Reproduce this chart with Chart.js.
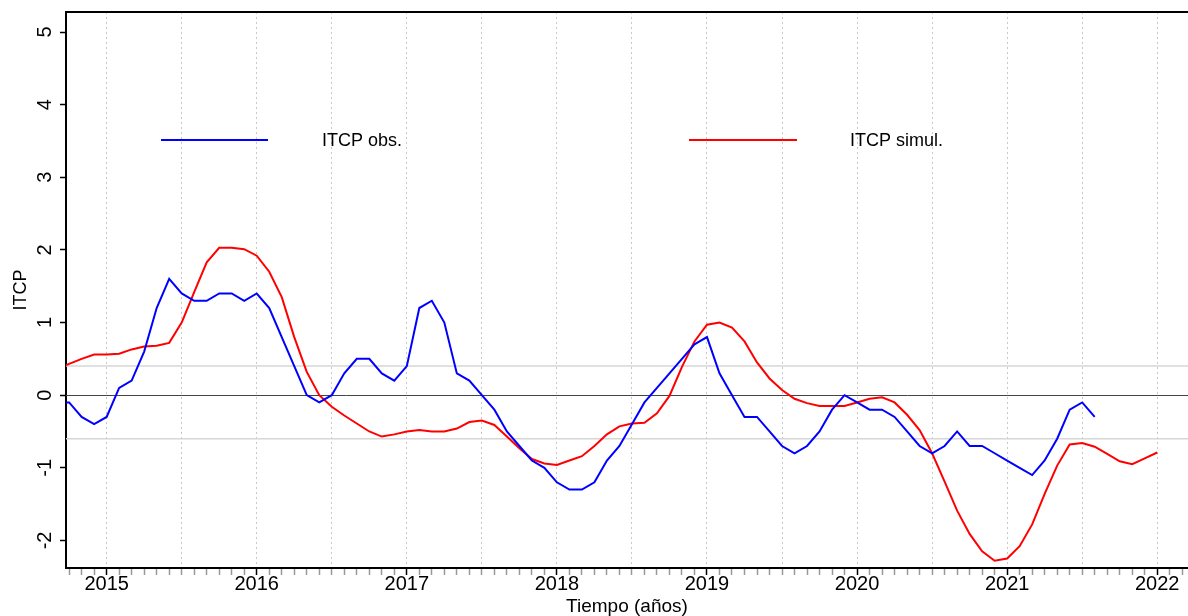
<!DOCTYPE html>
<html>
<head>
<meta charset="utf-8">
<script src="https://cdn.jsdelivr.net/npm/chart.js@4.4.1/dist/chart.umd.min.js"></script>
<style>
html,body{margin:0;padding:0;background:#fff;}
#wrap{width:1188px;height:616px;position:relative;}
</style>
</head>
<body>
<div id="wrap"><canvas id="c"></canvas></div>
<script>
// ---------- data ----------
const months = [
  '2014-09','2014-10','2014-11','2014-12',
  '2015-01','2015-02','2015-03','2015-04','2015-05','2015-06','2015-07','2015-08','2015-09','2015-10','2015-11','2015-12',
  '2016-01','2016-02','2016-03','2016-04','2016-05','2016-06','2016-07','2016-08','2016-09','2016-10','2016-11','2016-12',
  '2017-01','2017-02','2017-03','2017-04','2017-05','2017-06','2017-07','2017-08','2017-09','2017-10','2017-11','2017-12',
  '2018-01','2018-02','2018-03','2018-04','2018-05','2018-06','2018-07','2018-08','2018-09','2018-10','2018-11','2018-12',
  '2019-01','2019-02','2019-03','2019-04','2019-05','2019-06','2019-07','2019-08','2019-09','2019-10','2019-11','2019-12',
  '2020-01','2020-02','2020-03','2020-04','2020-05','2020-06','2020-07','2020-08','2020-09','2020-10','2020-11','2020-12',
  '2021-01','2021-02','2021-03','2021-04','2021-05','2021-06','2021-07','2021-08','2021-09','2021-10','2021-11','2021-12',
  '2022-01'
];

const itcpObs = [
  -0.1,-0.1,-0.3,-0.4,
  -0.3,0.1,0.2,0.6,1.2,1.6,1.4,1.3,1.3,1.4,1.4,1.3,
  1.4,1.2,0.8,0.4,0.0,-0.1,0.0,0.3,0.5,0.5,0.3,0.2,
  0.4,1.2,1.3,1.0,0.3,0.2,0.0,-0.2,-0.5,-0.7,-0.9,-1.0,
  -1.2,-1.3,-1.3,-1.2,-0.9,-0.7,-0.4,-0.1,0.1,0.3,0.5,0.7,
  0.8,0.3,0.0,-0.3,-0.3,-0.5,-0.7,-0.8,-0.7,-0.5,-0.2,0.0,
  -0.1,-0.2,-0.2,-0.3,-0.5,-0.7,-0.8,-0.7,-0.5,-0.7,-0.7,-0.8,
  -0.9,-1.0,-1.1,-0.9,-0.6,-0.2,-0.1,-0.3
];

const itcpSimul = [
  0.36,0.43,0.50,0.56,
  0.56,0.57,0.63,0.67,0.68,0.72,1.00,1.42,1.83,2.03,2.03,2.01,
  1.92,1.70,1.35,0.80,0.32,0.00,-0.16,-0.28,-0.39,-0.50,-0.57,-0.54,
  -0.50,-0.48,-0.50,-0.50,-0.46,-0.37,-0.35,-0.41,-0.57,-0.73,-0.88,-0.94,
  -0.96,-0.90,-0.84,-0.70,-0.54,-0.43,-0.39,-0.38,-0.25,-0.01,0.39,0.74,
  0.97,1.00,0.93,0.74,0.45,0.23,0.07,-0.05,-0.11,-0.15,-0.15,-0.15,
  -0.10,-0.05,-0.03,-0.10,-0.27,-0.48,-0.80,-1.19,-1.59,-1.91,-2.15,-2.28,
  -2.25,-2.08,-1.78,-1.36,-0.97,-0.68,-0.66,-0.71,-0.81,-0.91,-0.95,-0.87,
  -0.79
];

const seriesNames = ['ITCP obs.', 'ITCP simul.'];
const yearLabels = [2015, 2016, 2017, 2018, 2019, 2020, 2021, 2022];
const yTickLabels = [-2, -1, 0, 1, 2, 3, 4, 5];
const refLevels = [0.4, -0.6];
const zeroLevel = [0];

// ---------- helpers ----------
const FONT = '"Liberation Sans", Arial, Helvetica, sans-serif';
const BASE_YEAR = 2015;
function monthIndex(s) {
  const [y, m] = s.split('-').map(Number);
  return (y - BASE_YEAR) * 12 + (m - 1);
}
function toXY(vals) {
  return vals.map((v, i) => ({ x: monthIndex(months[i]), y: v }));
}

// ---------- plugins ----------
const refLinesPlugin = {
  id: 'refLines',
  beforeDatasetsDraw(chart) {
    const { ctx, chartArea, scales } = chart;
    ctx.save();
    ctx.lineWidth = 1.5;
    ctx.strokeStyle = '#d6d6d6';
    refLevels.forEach(v => {
      const y = scales.y.getPixelForValue(v);
      ctx.beginPath(); ctx.moveTo(chartArea.left, y); ctx.lineTo(chartArea.right, y); ctx.stroke();
    });
    ctx.lineWidth = 1;
    ctx.strokeStyle = '#444';
    zeroLevel.forEach(v => {
      const y = Math.round(scales.y.getPixelForValue(v)) + 0.5;
      ctx.beginPath(); ctx.moveTo(chartArea.left, y); ctx.lineTo(chartArea.right, y); ctx.stroke();
    });
    // top frame line
    ctx.lineWidth = 2;
    ctx.strokeStyle = '#000';
    ctx.beginPath(); ctx.moveTo(chartArea.left - 1, chartArea.top); ctx.lineTo(chartArea.right, chartArea.top); ctx.stroke();
    ctx.restore();
  }
};

const inlineLegend = {
  id: 'inlineLegend',
  afterDatasetsDraw(chart) {
    const { ctx, chartArea } = chart;
    const items = [
      { x0: 161, x1: 268, tx: 322 },
      { x0: 689, x1: 797, tx: 850 }
    ];
    const y = chartArea.top + 128;
    ctx.save();
    ctx.font = '18px ' + FONT;
    ctx.textBaseline = 'middle';
    ctx.textAlign = 'left';
    chart.data.datasets.forEach((ds, i) => {
      const it = items[i];
      ctx.strokeStyle = ds.borderColor;
      ctx.lineWidth = 2;
      ctx.beginPath(); ctx.moveTo(it.x0, y); ctx.lineTo(it.x1, y); ctx.stroke();
      ctx.fillStyle = '#000';
      ctx.fillText(ds.label, it.tx, y + 1);
    });
    ctx.restore();
  }
};

// ---------- chart ----------
new Chart(document.getElementById('c'), {
  type: 'line',
  data: {
    datasets: [
      { label: seriesNames[0], data: toXY(itcpObs), borderColor: '#0000ff', borderWidth: 2, pointRadius: 0, tension: 0, fill: false },
      { label: seriesNames[1], data: toXY(itcpSimul), borderColor: '#ff0000', borderWidth: 2, pointRadius: 0, tension: 0, fill: false }
    ]
  },
  options: {
    responsive: true,
    maintainAspectRatio: false,
    animation: false,
    layout: { padding: { top: 12, right: 0, left: 0, bottom: 0 } },
    plugins: { legend: { display: false }, tooltip: { enabled: false } },
    scales: {
      x: {
        type: 'linear',
        min: -3.25,
        max: 86.46,
        afterFit: s => { s.height = 48; s.paddingLeft = 0; s.paddingRight = 0; },
        ticks: {
          stepSize: 1, autoSkip: false, includeBounds: false,
          minRotation: 0, maxRotation: 0, padding: -1,
          color: '#000',
          font: { family: FONT, size: 20, lineHeight: 1 },
          callback: v => {
            if (!Number.isInteger(v) || v % 12 !== 0) return '';
            const yr = BASE_YEAR + v / 12;
            return yearLabels.includes(yr) ? String(yr) : '';
          }
        },
        grid: {
          drawOnChartArea: true,
          color: c => (c.tick && Math.abs(c.tick.value % 6) === 0) ? '#c8c8c8' : 'rgba(0,0,0,0)',
          lineWidth: 1,
          drawTicks: true,
          tickLength: 7,
          tickWidth: 1.5,
          tickColor: c => (c.tick && Math.abs(c.tick.value % 12) === 0) ? '#000' : '#999',
          tickBorderDash: []
        },
        border: { display: true, color: '#000', width: 2, dash: [2, 3] },
        title: { display: true, text: 'Tiempo (años)', color: '#000', font: { family: FONT, size: 19, lineHeight: 0.95 }, padding: 0 }
      },
      y: {
        min: -2.38,
        max: 5.276,
        afterFit: s => { s.width = 66; s.paddingTop = 0; s.paddingBottom = 0; },
        ticks: {
          stepSize: 1, includeBounds: false,
          minRotation: 90, maxRotation: 90, crossAlign: 'center', padding: 6,
          color: '#000',
          font: { family: FONT, size: 20 },
          callback: v => yTickLabels.includes(v) ? String(v) : ''
        },
        grid: { drawOnChartArea: false, drawTicks: true, tickLength: 6, tickColor: '#000', tickWidth: 1.5 },
        border: { display: true, color: '#000', width: 2 },
        title: { display: true, text: 'ITCP', color: '#000', font: { family: FONT, size: 18 }, padding: { top: 10, bottom: 0 } }
      }
    }
  },
  plugins: [refLinesPlugin, inlineLegend]
});
</script>
</body>
</html>
